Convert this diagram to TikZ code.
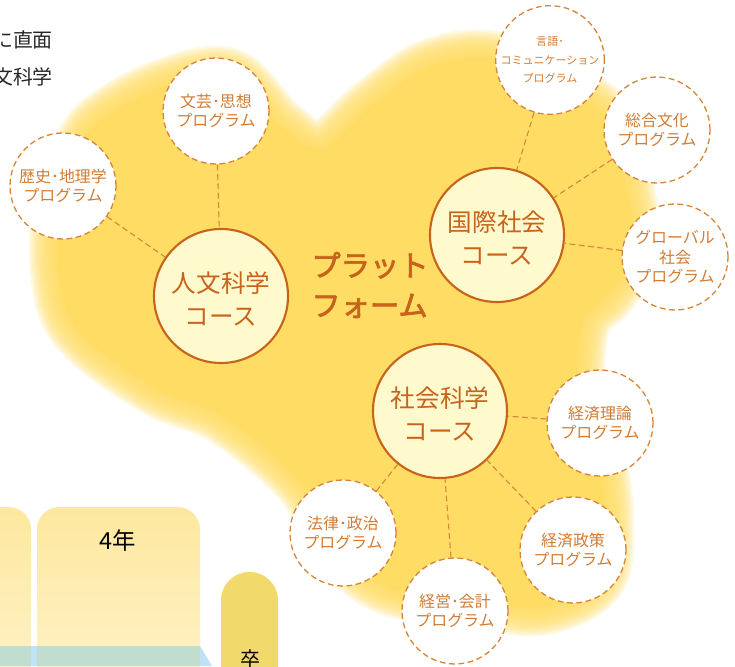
\documentclass[tikz,border=0pt]{standalone}
\usepackage{fontspec}
\newfontfamily\jp{Noto Sans CJK JP}
\newfontfamily\jpmed[FakeBold=2.5]{Noto Sans CJK JP}
\definecolor{blobyellow}{HTML}{FFDC64}
\definecolor{courseline}{HTML}{C8631C}
\definecolor{coursefill}{HTML}{FFF9CE}
\definecolor{progline}{HTML}{D6843A}
\definecolor{progtext}{HTML}{D27C34}
\definecolor{yeartop}{HTML}{FEE89F}
\definecolor{yearbot}{HTML}{FEF4CF}
\definecolor{bandblue}{HTML}{BFE3F4}
\definecolor{bandteal}{HTML}{C0DDD0}
\definecolor{gradpill}{HTML}{F1D96C}
\newcommand{\blobpath}{plot[smooth cycle, tension=0.6] coordinates {
  (105,118) (165,86) (230,76) (280,126) (322,148) (372,106) (432,66) (500,60)
  (575,95) (608,123) (627,192) (634,250) (610,292) (583,322) (578,390) (597,450)
  (606,520) (597,580) (538,608) (460,596) (390,588) (340,550) (302,483) (225,418)
  (155,388) (78,330) (58,270) (62,190) (82,145)}}
% two-line course name, set a little low in its circle
\newcommand{\cname}[2]{\raisebox{-5.5pt}[\height][\depth]{\begin{tabular}{@{}c@{}}#1\\#2\end{tabular}}}

\begin{document}
\begin{tikzpicture}[x=0.03cm, y=-0.03cm,
    course/.style={circle, draw=courseline, line width=1.8pt, fill=coursefill, minimum size=4.02cm, inner sep=0pt, text=courseline, font=\jp\fontsize{21}{27.5}\selectfont},
    prog/.style={circle, draw=progline, line width=1.1pt, dash pattern=on 5pt off 3pt, fill=white, minimum size=3.18cm, inner sep=0pt, align=center, text=progtext, font=\jp\fontsize{13.6}{16.5}\selectfont},
    link/.style={draw=progline, line width=0.9pt, dash pattern=on 5pt off 3pt},
    plain/.style={font=\jp\fontsize{17}{20}\selectfont, text=black!85}
]
\clip (0,0) rectangle (735,666);

% Blurred platform area
\foreach \w in {4,8,...,48}
  \draw[blobyellow, line width=\w pt, opacity=0.2, line join=round] \blobpath;
\fill[blobyellow] \blobpath;

% Cut-off text, top left
\node[plain, anchor=east] (face) at (57,40) {に直面};
\node[plain, anchor=east] (field) at (57,77) {文科学};

% Year columns
\shade[top color=yeartop, bottom color=yearbot, rounded corners=19pt] (-40,507) rectangle (31,720);
\shade[top color=yeartop, bottom color=yearbot, rounded corners=19pt] (37,507) rectangle (200,720);
\fill[bandblue] (-10,646) -- (200,646) -- (212,666) -- (-10,666) -- cycle;
\fill[bandteal] (-10,646) rectangle (31,666);
\fill[bandteal] (37,646) rectangle (200,666);
\node[font=\jp\fontsize{20}{22}\selectfont] (year4) at (118,541) {4年};
\fill[gradpill, rounded corners=24.2pt] (221,572) rectangle (278,720);
\node[font=\jp\fontsize{17}{20}\selectfont] (grad) at (250,659) {卒};

% Courses
\node[course] (jinbun) at (221,296) {\cname{人文科学}{コース}};
\node[course] (kokusai) at (497,235) {\cname{国際社会}{コース}};
\node[course] (shakai) at (440,411) {\cname{社会科学}{コース}};
\node[font=\jpmed\fontsize{25}{34}\selectfont, text=courseline, align=left] (platform) at (370,285) {プラット\\フォーム};

% Programs
\node[prog] (bungei) at (216,111) {文芸･思想\\プログラム};
\node[prog] (rekishi) at (63,186) {歴史･地理学\\プログラム};
\node[prog, font=\jp\fontsize{9.4}{15.5}\selectfont] (gengo) at (550,60) {言語･\\コミュニケーション\\プログラム};
\node[prog] (sogo) at (657,130) {総合文化\\プログラム};
\node[prog] (global) at (675,257) {グローバル\\社会\\プログラム};
\node[prog] (keiri) at (600,423) {経済理論\\プログラム};
\node[prog] (keisei) at (573,550) {経済政策\\プログラム};
\node[prog] (keiei) at (455,611) {経営･会計\\プログラム};
\node[prog] (hoho) at (343,533) {法律･政治\\プログラム};

% Links
\draw[link] (bungei) -- (jinbun);
\draw[link] (rekishi) -- (jinbun);
\draw[link] (gengo) -- (kokusai);
\draw[link] (sogo) -- (kokusai);
\draw[link] (global) -- (kokusai);
\draw[link] (keiri) -- (shakai);
\draw[link] (keisei) -- (shakai);
\draw[link] (keiei) -- (shakai);
\draw[link] (hoho) -- (shakai);
\end{tikzpicture}
\end{document}
